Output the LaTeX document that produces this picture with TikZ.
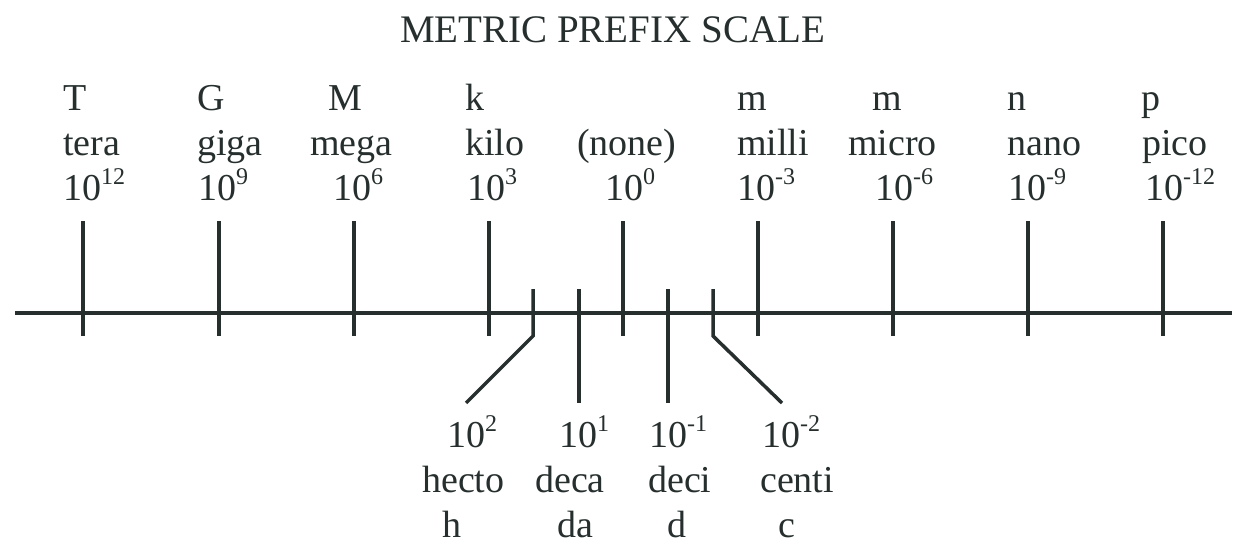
\documentclass[tikz,border=0pt]{standalone}
\usepackage{fontspec}
\setmainfont{Liberation Serif}
\usepackage{tikz}
\definecolor{ink}{RGB}{38,46,46}
\tikzstyle{lbl}=[anchor=base west,inner sep=0pt,text=ink,font=\fontsize{38}{40}\selectfont]
\tikzstyle{ttl}=[lbl,font=\fontsize{39}{41}\selectfont]
\tikzstyle{bar}=[draw=ink,line width=3.5pt]
\newcommand\pw[1]{\raisebox{0.42em}{\fontsize{24}{24}\selectfont #1}}

\begin{document}
\begin{tikzpicture}[x=1pt,y=-1pt]
      \useasboundingbox (0,0) rectangle (1246,554);
      \node[ttl] at (400,42) (title) {METRIC PREFIX SCALE};
      % upper labels
      \node[lbl] at (63,110) (symT) {T};
      \node[lbl] at (63,155) (nameT) {tera};
      \node[lbl] at (63,200) (powT) {10\pw{12}};
      \node[lbl] at (197,110) (symG) {G};
      \node[lbl] at (197,155) (nameG) {giga};
      \node[lbl] at (198,200) (powG) {10\pw{9}};
      \node[lbl] at (328,110) (symM) {M};
      \node[lbl] at (310,155) (nameM) {mega};
      \node[lbl] at (333,200) (powM) {10\pw{6}};
      \node[lbl] at (465,110) (symk) {k};
      \node[lbl] at (465,155) (namek) {kilo};
      \node[lbl] at (467,200) (powk) {10\pw{3}};
      \node[lbl] at (577,155) (nameone) {(none)};
      \node[lbl] at (605,200) (powone) {10\pw{0}};
      \node[lbl] at (737,110) (symm) {m};
      \node[lbl] at (737,155) (namem) {milli};
      \node[lbl] at (737,200) (powm) {10\pw{-3}};
      \node[lbl] at (872,110) (symu) {m};
      \node[lbl] at (848,155) (nameu) {micro};
      \node[lbl] at (875,200) (powu) {10\pw{-6}};
      \node[lbl] at (1007,110) (symn) {n};
      \node[lbl] at (1007,155) (namen) {nano};
      \node[lbl] at (1008,200) (pown) {10\pw{-9}};
      \node[lbl] at (1141,110) (symp) {p};
      \node[lbl] at (1142,155) (namep) {pico};
      \node[lbl] at (1145,200) (powp) {10\pw{-12}};
      % lower labels
      \node[lbl] at (447,447) (powh) {10\pw{2}};
      \node[lbl] at (422,492) (nameh) {hecto};
      \node[lbl] at (442,537) (symh) {h};
      \node[lbl] at (559,447) (powda) {10\pw{1}};
      \node[lbl] at (535,492) (nameda) {deca};
      \node[lbl] at (557,537) (symda) {da};
      \node[lbl] at (649,447) (powd) {10\pw{-1}};
      \node[lbl] at (648,492) (named) {deci};
      \node[lbl] at (667,537) (symd) {d};
      \node[lbl] at (762,447) (powc) {10\pw{-2}};
      \node[lbl] at (760,492) (namec) {centi};
      \node[lbl] at (778,537) (symc) {c};
      % axis
      \coordinate (axisL) at (15,313);
      \coordinate (axisR) at (1232,313);
      \draw[bar] (axisL)--(axisR);
      % long ticks
      \coordinate (tT) at (83,221);    \coordinate (bT) at (83,336);
      \coordinate (tG) at (219,221);   \coordinate (bG) at (219,336);
      \coordinate (tM) at (354,221);   \coordinate (bM) at (354,336);
      \coordinate (tk) at (489,221);   \coordinate (bk) at (489,336);
      \coordinate (tone) at (623,221); \coordinate (bone) at (623,336);
      \coordinate (tm) at (758,221);   \coordinate (bm) at (758,336);
      \coordinate (tu) at (893,221);   \coordinate (bu) at (893,336);
      \coordinate (tn) at (1028,221);  \coordinate (bn) at (1028,336);
      \coordinate (tp) at (1163,221);  \coordinate (bp) at (1163,336);
      \draw[bar] (tT)--(bT);
      \draw[bar] (tG)--(bG);
      \draw[bar] (tM)--(bM);
      \draw[bar] (tk)--(bk);
      \draw[bar] (tone)--(bone);
      \draw[bar] (tm)--(bm);
      \draw[bar] (tu)--(bu);
      \draw[bar] (tn)--(bn);
      \draw[bar] (tp)--(bp);
      % short ticks
      \coordinate (th) at (533,289);  \coordinate (kh) at (533,336);  \coordinate (bh) at (466,403);
      \coordinate (tda) at (579,289); \coordinate (bda) at (579,403);
      \coordinate (td) at (668,289);  \coordinate (bd) at (668,403);
      \coordinate (tc) at (713,289);  \coordinate (kc) at (713,336);  \coordinate (bc) at (782,403);
      \draw[bar] (th)--(kh)--(bh);
      \draw[bar] (tda)--(bda);
      \draw[bar] (td)--(bd);
      \draw[bar] (tc)--(kc)--(bc);
\end{tikzpicture}
\end{document}
